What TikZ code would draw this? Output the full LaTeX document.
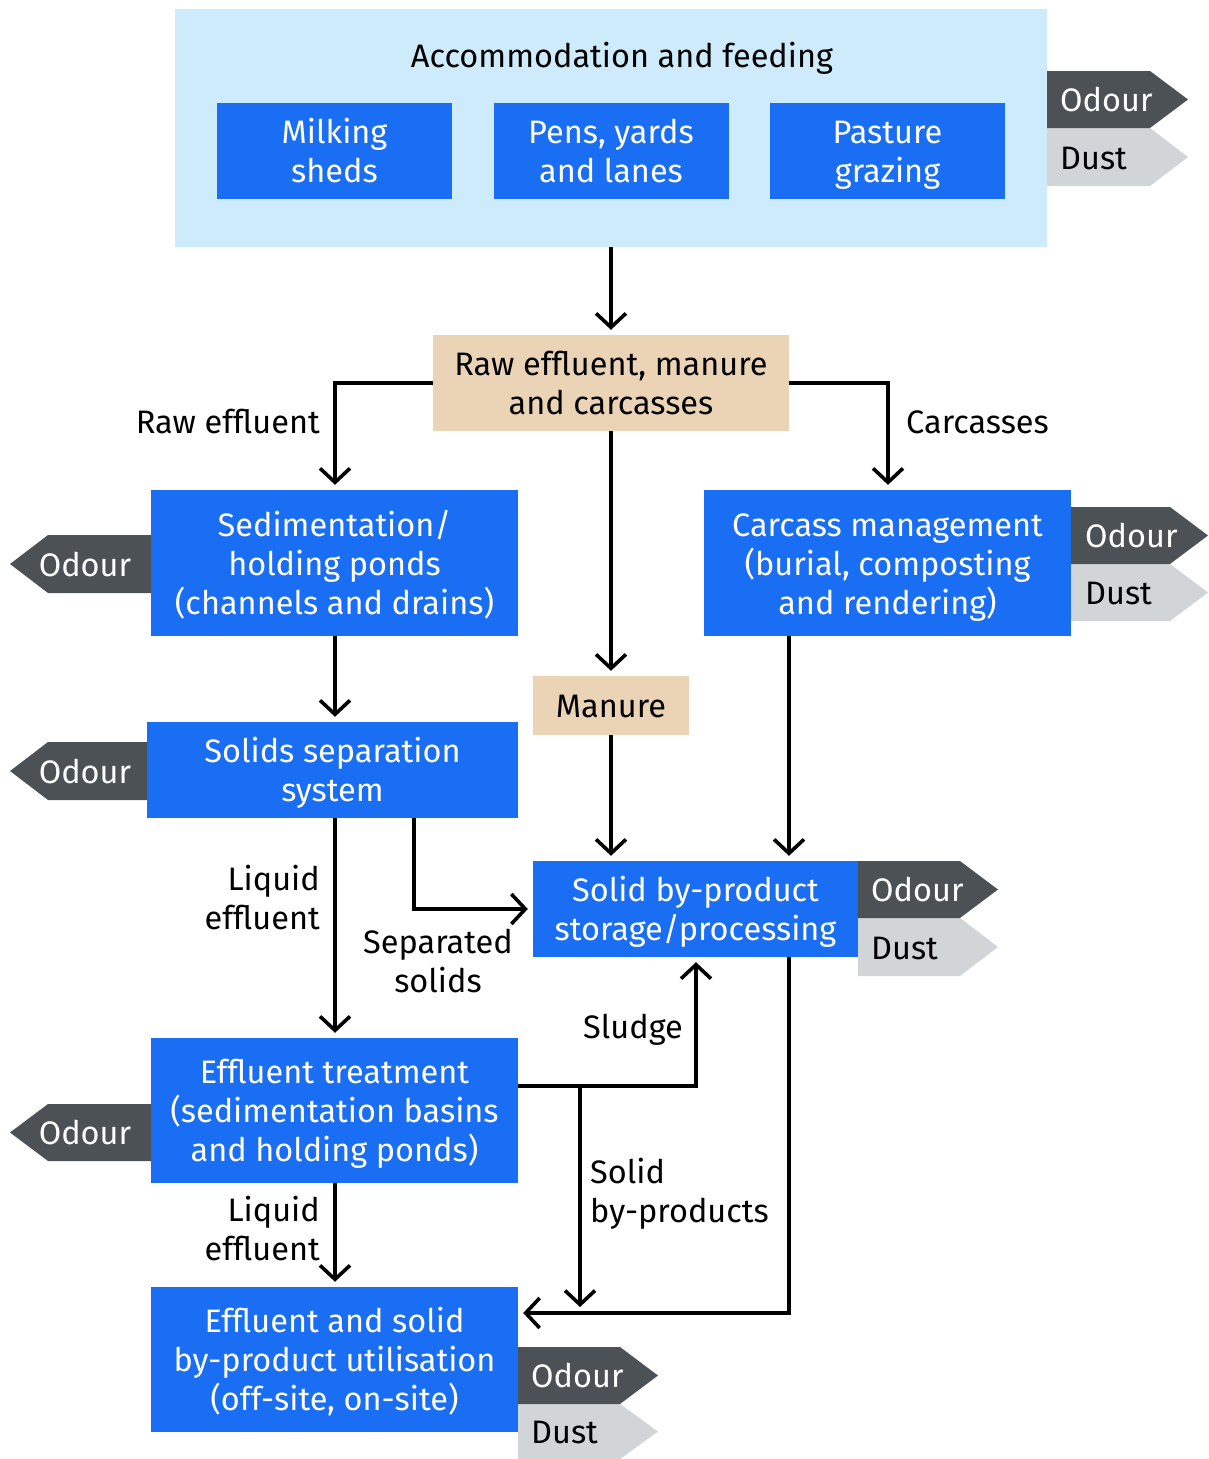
\documentclass[tikz,border=0pt]{standalone}
\usepackage{fontspec}
\setmainfont{Fira Sans}
\usetikzlibrary{arrows.meta}
\definecolor{lblue}{HTML}{CDEBFB}
\definecolor{bblue}{HTML}{1A6EF3}
\definecolor{tan}{HTML}{EBD3B6}
\definecolor{dgray}{HTML}{4B5154}
\definecolor{lgray}{HTML}{D1D5D8}
\begin{document}
\begin{tikzpicture}[x=1pt,y=-1pt,
  every node/.style={font=\fontsize{32.5}{39}\selectfont},
  one/.style={text height=24pt,text depth=0pt},
  two/.style={text height=63pt,text depth=0pt},
  three/.style={text height=102pt,text depth=0pt},
  bluebox/.style={fill=bblue,text=white,align=center,inner sep=0pt},
  tanbox/.style={fill=tan,text=black,align=center,inner sep=0pt},
  lbl/.style={inner sep=0pt,text=black},
  arr/.style={line width=3.6pt,-{Straight Barb[length=14pt,width=30pt,line width=3.6pt]},shorten >=5pt}]
\useasboundingbox (0,0) rectangle (1208,1459);
% top area
\node[fill=lblue,minimum width=872pt,minimum height=238pt,inner sep=0pt] (top) at (611,128) {};
\node[lbl,one] (title) at (622,55) {Accommodation and feeding};
\node[bluebox,two,minimum width=235pt,minimum height=96pt] (milk) at (334.5,151) {Milking\\sheds};
\node[bluebox,two,minimum width=235pt,minimum height=96pt] (pens) at (611,151) {Pens, yards\\and lanes};
\node[bluebox,two,minimum width=235pt,minimum height=96pt] (past) at (887.5,151) {Pasture\\grazing};
% tags top right
\fill[lgray] (1047,128) -- (1150,128) -- (1188,157) -- (1150,186) -- (1047,186) -- cycle;
\fill[dgray] (1047,71) -- (1150,71) -- (1188,99.5) -- (1150,128) -- (1047,128) -- cycle;
\node[lbl,one,anchor=west,text=white] (odt) at (1060,99.5) {Odour};
\node[lbl,one,anchor=west] (dut) at (1060,157) {Dust};
% main boxes
\node[tanbox,two,minimum width=356pt,minimum height=96pt] (raw) at (611,383) {Raw effluent, manure\\and carcasses};
\node[bluebox,three,minimum width=367pt,minimum height=146pt] (sed) at (334.5,563) {Sedimentation/\\holding ponds\\(channels and drains)};
\node[bluebox,three,minimum width=367pt,minimum height=146pt] (carc) at (887.5,563) {Carcass management\\(burial, composting\\and rendering)};
\node[tanbox,one,minimum width=156pt,minimum height=59pt] (man) at (611,705.5) {Manure};
\node[bluebox,two,minimum width=371pt,minimum height=96pt] (solsep) at (332.5,770) {Solids separation\\system};
\node[bluebox,two,minimum width=325pt,minimum height=96pt] (solid) at (695.5,909) {Solid by-product\\storage/processing};
\node[bluebox,three,minimum width=367pt,minimum height=145pt] (treat) at (334.5,1110.5) {Effluent treatment\\(sedimentation basins\\and holding ponds)};
\node[bluebox,three,minimum width=367pt,minimum height=145pt] (util) at (334.5,1359.5) {Effluent and solid\\by-product utilisation\\(off-site, on-site)};
% left tags
\fill[dgray] (151,535) -- (48,535) -- (10,564) -- (48,593) -- (151,593) -- cycle;
\node[lbl,one,text=white] (od1) at (85,564) {Odour};
\fill[dgray] (147,742) -- (48,742) -- (10,771) -- (48,800) -- (147,800) -- cycle;
\node[lbl,one,text=white] (od2) at (85,771) {Odour};
\fill[dgray] (151,1104) -- (48,1104) -- (10,1132.5) -- (48,1161) -- (151,1161) -- cycle;
\node[lbl,one,text=white] (od3) at (85,1132.5) {Odour};
% carcass tags
\fill[lgray] (1071,564) -- (1170,564) -- (1208,592.5) -- (1170,621) -- (1071,621) -- cycle;
\fill[dgray] (1071,507) -- (1170,507) -- (1208,535.5) -- (1170,564) -- (1071,564) -- cycle;
\node[lbl,one,anchor=west,text=white] (od4) at (1085,535.5) {Odour};
\node[lbl,one,anchor=west] (du4) at (1085,592.5) {Dust};
% solid tags
\fill[lgray] (858,918) -- (960,918) -- (998,947) -- (960,976) -- (858,976) -- cycle;
\fill[dgray] (858,861) -- (960,861) -- (998,889.5) -- (960,918) -- (858,918) -- cycle;
\node[lbl,one,anchor=west,text=white] (od5) at (871,889.5) {Odour};
\node[lbl,one,anchor=west] (du5) at (871,947) {Dust};
% util tags
\fill[lgray] (518,1404) -- (620,1404) -- (658,1431.5) -- (620,1459) -- (518,1459) -- cycle;
\fill[dgray] (518,1347) -- (620,1347) -- (658,1375.5) -- (620,1404) -- (518,1404) -- cycle;
\node[lbl,one,anchor=west,text=white] (od6) at (531,1375.5) {Odour};
\node[lbl,one,anchor=west] (du6) at (531,1431.5) {Dust};
% helper coordinates
\coordinate (lx) at (335,0);
\coordinate (cx) at (789,0);
\coordinate (sx) at (414,0);
\coordinate (sy) at (0,1086);
\coordinate (sbx) at (580,1086);
\coordinate (sbend) at (580,1312);
\coordinate (uy) at (0,1313);
% connectors
\draw[arr] (top.south) -- (raw.north);
\draw[arr] (raw.west) -| (sed.north -| lx);
\draw[arr] (raw.east) -| (carc.north -| 888,0);
\draw[arr] (raw.south) -- (man.north);
\draw[arr] (sed.south -| lx) -- (solsep.north -| lx);
\draw[arr] (man.south) -- (man.south |- solid.north);
\draw[arr] (carc.south -| cx) -- (solid.north -| cx);
\draw[arr] (solsep.south -| sx) |- (solid.west);
\draw[arr] (solsep.south -| lx) -- (treat.north -| lx);
\draw[arr] (treat.east |- sy) -| (solid.south -| 696,0);
\draw[arr] (sbx) -- (sbend);
\draw[arr] (solid.south -| cx) |- (util.east |- uy);
\draw[arr] (treat.south -| lx) -- (util.north -| lx);
% labels
\node[lbl,one,anchor=east] (l1) at (320,421) {Raw effluent};
\node[lbl,one,anchor=west] (l2) at (906,421) {Carcasses};
\node[lbl,two,anchor=east,align=right] (l3) at (320,898) {Liquid\\effluent};
\node[lbl,two,align=center] (l4) at (438,961) {Separated\\solids};
\node[lbl,one] (l5) at (633,1026) {Sludge};
\node[lbl,two,anchor=west,align=left] (l6) at (590,1191) {Solid\\by-products};
\node[lbl,two,anchor=east,align=right] (l7) at (320,1229) {Liquid\\effluent};
\end{tikzpicture}
\end{document}
